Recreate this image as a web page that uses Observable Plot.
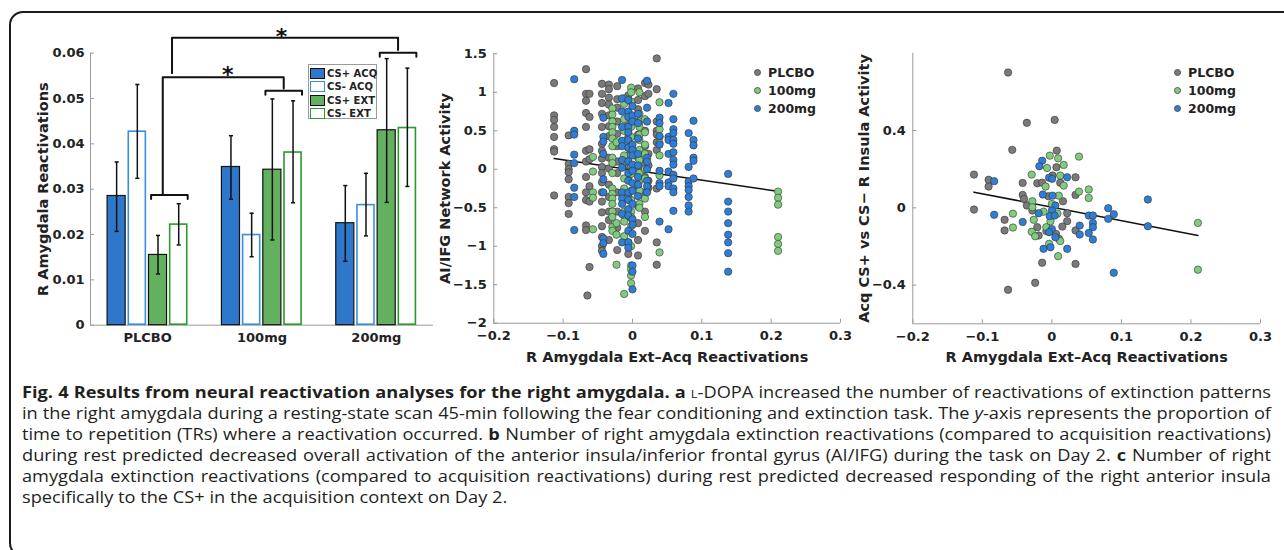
<!DOCTYPE html>
<html>
<head>
<meta charset="utf-8">
<script src="https://cdn.jsdelivr.net/npm/d3@7"></script>
<script src="https://cdn.jsdelivr.net/npm/@observablehq/plot@0.6"></script>
<style>
  html, body { margin: 0; padding: 0; background: #fff; }
  body { width: 1284px; height: 550px; overflow: hidden; position: relative; }
  #frame { position: absolute; left: 9px; top: 11px; width: 1300px; height: 546px;
           border: 2px solid #1a1a1a; border-radius: 14px; box-sizing: border-box; }
  .panel { position: absolute; top: 0; }
  .panel svg { overflow: visible; }
  #legA { position: absolute; left: 308px; top: 64px; width: 69px; height: 55px;
          border: 1px solid #9a9a9a; background: #fff; box-sizing: border-box;
          font-family: "DejaVu Sans"; font-weight: bold; font-size: 10px; color: #222; }
  #legA .row { position: absolute; left: 1px; height: 13px; display: flex; align-items: center; white-space: nowrap; }
  #legA .sw { width: 15px; height: 11px; box-sizing: border-box; margin-right: 2px; flex: none; }
  .legS { position: absolute; font-family: "DejaVu Sans"; font-weight: bold; font-size: 12.5px; color: #222; }
  .legS .row { position: absolute; left: 0; height: 18px; display: flex; align-items: center; white-space: nowrap; }
  .legS .dot { width: 7px; height: 7px; border-radius: 50%; box-sizing: border-box; border: 0.6px solid #555; margin-right: 7px; flex: none; }
  #caption { position: absolute; left: 22px; top: 382px; font-family: "Open Sans"; font-size: 15.5px; color: #231f20; }
  .cl { height: 21px; line-height: 21px; transform-origin: 0 50%; }
  .cl > span { white-space: nowrap; display: inline-block; }
  .cl.just { text-align: justify; text-align-last: justify; }
  .cl.just > span, .cl.last > span { display: inline; white-space: normal; }
  .sc { font-variant: small-caps; }
</style>
</head>
<body>
<div id="frame"></div>
<div id="pa" class="panel" style="left:0px"></div>
<div id="pb" class="panel" style="left:430px"></div>
<div id="pc" class="panel" style="left:850px"></div>
<div id="legA"></div>
<div id="legB" class="legS" style="left:754px;top:0px"></div>
<div id="legC" class="legS" style="left:1174px;top:0px"></div>
<div id="caption">
  <div class="cl"><span><b>Fig. 4 Results from neural reactivation analyses for the right amygdala. a</b> <span class="sc">l</span>-DOPA increased the number of reactivations of extinction patterns</span></div>
  <div class="cl"><span>in the right amygdala during a resting-state scan 45-min following the fear conditioning and extinction task. The <i>y</i>-axis represents the proportion of</span></div>
  <div class="cl"><span>time to repetition (TRs) where a reactivation occurred. <b>b</b> Number of right amygdala extinction reactivations (compared to acquisition reactivations)</span></div>
  <div class="cl"><span>during rest predicted decreased overall activation of the anterior insula/inferior frontal gyrus (AI/IFG) during the task on Day 2. <b>c</b> Number of right</span></div>
  <div class="cl"><span>amygdala extinction reactivations (compared to acquisition reactivations) during rest predicted decreased responding of the right anterior insula</span></div>
  <div class="cl"><span>specifically to the CS+ in the acquisition context on Day 2.</span></div>
</div>
<script>
// ---------------- DATA ----------------
// Panel a: bar chart
const groups = ["PLCBO", "100mg", "200mg"];
const conditions = ["CS+ ACQ", "CS- ACQ", "CS+ EXT", "CS- EXT"];
const meanPLCBO = [0.0285, 0.0428, 0.0155, 0.0223];
const mean100mg = [0.0349, 0.0200, 0.0343, 0.0382];
const mean200mg = [0.0225, 0.0266, 0.0430, 0.0436];
const lowPLCBO  = [0.0207, 0.0324, 0.0113, 0.0177];
const low100mg  = [0.0278, 0.0151, 0.0188, 0.0270];
const low200mg  = [0.0141, 0.0197, 0.0271, 0.0306];
const highPLCBO = [0.0360, 0.0531, 0.0198, 0.0268];
const high100mg = [0.0418, 0.0247, 0.0499, 0.0495];
const high200mg = [0.0308, 0.0335, 0.0588, 0.0567];
const yTicksA = [0, 0.01, 0.02, 0.03, 0.04, 0.05, 0.06];

// significance brackets (group index, bracket height) and connectors (x in group units, y in data units)
const bracketGroup = [0, 1, 2];
const bracketLevel = [0.0287, 0.0517, 0.0601];
const connector1X = [0.132, 0.132, 1.19, 1.19];
const connector1Y = [0.0287, 0.0547, 0.0547, 0.0522];
const connector2X = [0.213, 0.213, 2.19, 2.19];
const connector2Y = [0.0556, 0.0634, 0.0634, 0.0607];
const starX = [0.70, 1.17];
const starY = [0.0562, 0.0646];

// Panel b: AI/IFG network activity, columns of [x, [y values]]
const plcboB = [
  [-0.113, [1.12, 0.70, 0.64, 0.55, 0.42, 0.26, 0.23, -0.34]],
  [-0.092, [0.44, 0.07, 0.0, -0.04, -0.13, -0.36, -0.44, -0.58]],
  [-0.067, [1.30, 0.98, 0.89, 0.73, 0.55, 0.24, 0.10, -0.10, -0.30, -0.40, -0.73, -0.79]],
  [-0.062, [0.98, 0.68, 0.26, 0.13, -0.22, -0.42, -1.27]],
  [-0.065, [-1.64]],
  [-0.044, [1.11, 0.98, 0.86, 0.72, 0.55, 0.33, 0.24, 0.14, 0.03, -0.05, -0.17, -0.30, -0.42, -0.56, -0.74, -0.88, -1.00, -1.06]],
  [-0.034, [1.10, 1.04, 0.93, 0.84, 0.70, 0.56, 0.43, 0.15, 0.01, -0.20, -0.36, -0.55, -0.66, -0.92]],
  [-0.022, [1.08, 0.91, 0.80, 0.62, 0.46, 0.30, 0.10, -0.05, -0.30, -0.55, -0.76, -1.05]],
  [-0.006, [0.96, 0.60, 0.42, 0.28, 0.18, 0.05, -0.12, -0.35, -0.62, -0.95, -1.10]],
  [0.008, [1.05, 0.90, 0.78, 0.62, 0.45, 0.15, 0.0, -0.22, -0.48, -0.70, -0.92, -1.12]],
  [0.018, [1.12, 0.95, 0.50, 0.30, 0.07, -0.10, -0.30, -0.55, -0.80]],
  [0.023, [1.10, 0.98, 0.20, 0.05, -0.15, -0.24]],
  [0.035, [1.44, 1.04, 0.62, 0.50, 0.45, 0.35, 0.25, -0.25, -0.95, -1.24]]
];
const mg100B = [
  [-0.057, [0.16, -0.03, -0.30, -0.37, -0.78]],
  [-0.029, [0.79, 0.71, 0.62, 0.55, 0.48, 0.40, 0.30, 0.15, 0.08, -0.05, -0.25, -0.32, -0.38, -0.45, -0.55, -0.62, -0.75, -0.80]],
  [-0.023, [0.35, -0.70, -0.85, -1.24]],
  [-0.012, [0.92, 0.85, 0.65, 0.50, 0.35, 0.18, 0.10, -0.12, -0.25, -0.38, -0.55, -0.60, -0.68, -0.87, -1.62]],
  [-0.002, [1.06, 1.00, 0.88, 0.55, 0.42, 0.32, 0.18, 0.05, -0.06, -0.28, -0.40, -0.55, -0.62, -0.74, -1.00, -1.25, -1.30, -1.38, -1.48]],
  [0.010, [1.00, 0.72, 0.62, 0.55, 0.45, 0.38, 0.25, 0.12, -0.05, -0.15, -0.28, -0.45, -0.50]],
  [0.018, [0.65, 0.48, 0.32, 0.20, 0.00, -0.12, -0.38, -0.62]],
  [0.039, [0.87, 0.52, 0.42, 0.34, 0.18, -0.08, -1.08]],
  [0.210, [-0.29, -0.37, -0.46, -0.88, -0.97, -1.06]]
];
const mg200B = [
  [-0.084, [1.17, 0.50, 0.45, 0.19, 0.08, -0.24, -0.36, -0.79]],
  [-0.042, [0.67, 0.42, 0.36, 0.20, -0.13, -0.30, -0.90, -0.96, -1.10]],
  [-0.015, [1.16, 0.92, 0.75, 0.55, 0.37, 0.30, 0.12, 0.02, -0.30, -0.38, -0.45, -0.58, -0.95]],
  [-0.006, [0.90, 0.75, 0.68, 0.55, 0.48, 0.38, 0.28, 0.10, -0.05, -0.15, -0.30, -0.40, -0.52, -0.60, -0.80, -0.95, -1.02]],
  [0.000, [0.82, 0.70, 0.62, 0.32, 0.25, 0.18, 0.06, -0.02, -0.18, -0.28, -0.45, -0.65, -0.72, -0.84, -1.25, -1.33, -1.56]],
  [0.008, [0.72, 0.60, 0.40, 0.20, 0.05, -0.10, -0.20, -0.35]],
  [0.021, [1.15, 0.80, 0.62, 0.15, 0.10, 0.00, -0.15, -0.22, -0.30]],
  [0.039, [0.67, 0.60, 0.43, 0.32, -0.02, -0.18, -0.22, -0.68]],
  [0.052, [0.86, 0.42, 0.38, 0.20, -0.03, -0.17, -0.22, -0.78]],
  [0.059, [0.98, 0.65, 0.52, 0.47, 0.38, 0.33, 0.22, 0.12, 0.06, -0.07, -0.12, -0.25, -0.30, -0.54]],
  [0.081, [0.47, 0.03, -0.16, -0.22, -0.27, -0.36, -0.47, -0.55]],
  [0.088, [0.63, 0.38, 0.31, 0.15, 0.11, -0.12]],
  [0.138, [-0.06, -0.42, -0.55, -0.70, -0.85, -0.95, -1.09, -1.33]]
];
const fitBX = [-0.113, 0.209];
const fitBY = [0.14, -0.286];
const xTicksBC = [-0.2, -0.1, 0, 0.1, 0.2, 0.3];
const yTicksB = [-2, -1.5, -1, -0.5, 0, 0.5, 1, 1.5];

// Panel c: Acq CS+ vs CS- R insula activity, [x, y] pairs
const plcboC = [
  [-0.063, 0.70], [-0.036, 0.44], [0.004, 0.455], [-0.057, 0.30], [0.007, 0.296],
  [-0.112, 0.172], [-0.091, 0.145], [-0.091, 0.11], [-0.112, -0.009],
  [-0.042, 0.129], [-0.042, 0.067], [-0.040, 0.046], [-0.036, 0.012],
  [-0.068, -0.062], [-0.068, -0.117], [-0.021, 0.127], [-0.014, 0.13],
  [0.0066, 0.21], [0.001, 0.167], [0.016, 0.034], [0.022, -0.028], [0.022, -0.069], [0.015, -0.097],
  [0.034, 0.158], [0.034, 0.067], [0.034, -0.117], [0.034, -0.29],
  [-0.014, -0.284], [-0.024, -0.388], [-0.063, -0.424],
  [-0.021, -0.10], [-0.019, -0.143], [-0.008, -0.12], [0.006, -0.135], [0.010, -0.16],
  [-0.028, -0.014], [0.012, 0.13], [-0.005, 0.06]
];
const mg100C = [
  [-0.003, 0.27], [0.009, 0.256], [0.039, 0.265], [0.017, 0.222], [-0.007, 0.206], [-0.029, 0.172],
  [0.012, 0.167], [0.017, 0.115], [-0.009, 0.11], [0.053, 0.095], [0.053, 0.051], [0.039, 0.084],
  [0.010, 0.063], [-0.028, 0.034], [-0.028, 0.003], [-0.056, -0.03], [-0.056, -0.102], [-0.026, -0.062],
  [-0.029, -0.124], [-0.024, -0.147], [-0.008, -0.10], [-0.002, -0.07], [0.008, -0.03],
  [-0.004, -0.186], [0.012, -0.172], [0.009, -0.25], [0.21, -0.078], [0.21, -0.32], [-0.012, -0.02], [0.0, 0.02]
];
const mg200C = [
  [-0.083, 0.138], [-0.083, -0.036], [-0.042, -0.073], [-0.014, 0.244], [-0.018, 0.215], [-0.004, 0.156],
  [0.0004, 0.15], [0.022, 0.158], [-0.013, 0.069], [0.001, 0.063], [0.005, 0.012], [0.0, -0.014],
  [-0.019, -0.028], [-0.003, -0.043], [0.004, -0.04], [0.0, -0.11], [-0.004, -0.126], [0.005, -0.152],
  [-0.012, -0.212], [-0.002, -0.204], [0.022, -0.212], [0.040, -0.092], [0.040, -0.138], [0.053, -0.04],
  [0.059, -0.04], [0.059, -0.078], [0.059, -0.10], [0.053, -0.13], [0.059, -0.164], [0.081, -0.002],
  [0.081, -0.057], [0.089, -0.033], [0.089, -0.336], [0.138, 0.043], [0.138, -0.095]
];
const fitCX = [-0.112, 0.210];
const fitCY = [0.081, -0.143];
const yTicksC = [-0.4, 0, 0.4];
const doseLabels = ["PLCBO", "100mg", "200mg"];

// ---------------- STYLE ----------------
const condFill = ["#2f78c9", "#ffffff", "#63b060", "#ffffff"];
const condStroke = ["#111111", "#3a8ee0", "#111111", "#2a9a2a"];
const condHollow = [false, true, false, true];
const doseColor = ["#7a7a7a", "#80cc7c", "#2f7ed6"];
const axisGray = "#9a9a9a";
const FONT = "DejaVu Sans";
const TITLE_SIZE = 14.5;
const barStep = 0.181, barWidth = 0.158;
const fmt = d => d === 0 ? "0" : (d < 0 ? "\u2212" : "") + Math.abs(d);

// ---------------- PANEL A ----------------
const means = [meanPLCBO, mean100mg, mean200mg];
const lows = [lowPLCBO, low100mg, low200mg];
const highs = [highPLCBO, high100mg, high200mg];
const bars = [];
groups.forEach((g, gi) => conditions.forEach((c, ci) => {
  const cx = gi + (ci - 1.5) * barStep;
  bars.push({group: g, cond: ci, cx, x1: cx - barWidth / 2, x2: cx + barWidth / 2,
    mean: means[gi][ci], lo: lows[gi][ci], hi: highs[gi][ci],
    fill: condFill[ci], stroke: condStroke[ci], hollow: condHollow[ci]});
}));
const foot = 0.00088;
const bracketLines = [];
bracketGroup.forEach((g, i) => {
  const a = g + 0.03, b = g + 0.35, y = bracketLevel[i];
  [[a, y - foot], [a, y], [b, y], [b, y - foot]].forEach(p => bracketLines.push({k: "b" + i, x: p[0], y: p[1]}));
});
connector1X.forEach((x, i) => bracketLines.push({k: "c1", x, y: connector1Y[i]}));
connector2X.forEach((x, i) => bracketLines.push({k: "c2", x, y: connector2Y[i]}));
const stars = starX.map((x, i) => ({x, y: starY[i]}));

const WA = 440, HA = 360, mLA = 90, mRA = 7, mTA = 52.7, mBA = 35.3;
const plotA = Plot.plot({
  width: WA, height: HA,
  marginLeft: mLA, marginRight: mRA, marginTop: mTA, marginBottom: mBA,
  x: {domain: [-0.5, 2.5], axis: null},
  y: {domain: [0, 0.06], axis: null},
  color: {type: "identity"},
  style: {background: "transparent", fontFamily: FONT, fontSize: "13px", fontWeight: "bold", color: "#222", overflow: "visible"},
  marks: [
    Plot.axisY({ticks: yTicksA, tickSize: 0, tickPadding: 6, tickFormat: fmt, label: null}),
    Plot.axisX({ticks: [0, 1, 2], tickSize: 0, tickPadding: 8, tickFormat: i => groups[i], label: null}),
    Plot.ruleX([-0.5], {stroke: axisGray}),
    Plot.ruleY([0], {stroke: axisGray}),
    Plot.tickY(yTicksA, {y: d => d, stroke: axisGray, insetRight: WA - mLA - mRA - 4}),
    Plot.rect(bars.filter(d => !d.hollow), {x1: "x1", x2: "x2", y1: () => 0, y2: "mean", fill: "fill", stroke: "stroke", strokeWidth: 1.2}),
    Plot.rect(bars.filter(d => d.hollow), {x1: "x1", x2: "x2", y1: () => 0, y2: "mean", fill: "fill", stroke: "stroke", strokeWidth: 1.6, inset: 0.5}),
    Plot.ruleX(bars, {x: "cx", y1: "lo", y2: "hi", stroke: "#111", strokeWidth: 1.5}),
    Plot.link(bars, {x1: d => d.cx - 0.018, x2: d => d.cx + 0.018, y1: "lo", y2: "lo", stroke: "#111", strokeWidth: 1.5}),
    Plot.link(bars, {x1: d => d.cx - 0.018, x2: d => d.cx + 0.018, y1: "hi", y2: "hi", stroke: "#111", strokeWidth: 1.5}),
    Plot.line(bracketLines, {x: "x", y: "y", z: "k", stroke: "#111", strokeWidth: 2, curve: "linear"}),
    Plot.text(stars, {x: "x", y: "y", text: () => "*", fontSize: 22, fontWeight: "bold", fill: "#111", dy: 5}),
    Plot.text(["R Amygdala Reactivations"], {text: d => d, frameAnchor: "left", textAnchor: "middle", lineAnchor: "middle", rotate: -90, dx: -47, fontSize: TITLE_SIZE, fontWeight: "bold", fill: "#222"})
  ]
});
document.getElementById("pa").append(plotA);

// legend for panel a
const legA = document.getElementById("legA");
conditions.forEach((c, i) => {
  const row = document.createElement("div");
  row.className = "row";
  row.style.top = (1.5 + i * 13.5) + "px";
  const sw = document.createElement("div");
  sw.className = "sw";
  sw.style.background = condFill[i];
  sw.style.border = (condHollow[i] ? 1.5 : 1) + "px solid " + condStroke[i];
  const t = document.createElement("span");
  t.textContent = c;
  row.append(sw, t);
  legA.append(row);
});

// ---------------- SCATTER PANELS ----------------
function flatCols(cols, dose) {
  const out = [];
  cols.forEach(([x, ys]) => ys.forEach(y => out.push({x, y, dose})));
  return out;
}
const pointsB = [...flatCols(plcboB, 0), ...flatCols(mg100B, 1), ...flatCols(mg200B, 2)];
const pointsC = [
  ...plcboC.map(([x, y]) => ({x, y, dose: 0})),
  ...mg100C.map(([x, y]) => ({x, y, dose: 1})),
  ...mg200C.map(([x, y]) => ({x, y, dose: 2}))
];

function scatter({W, H, mL, mR, mT, mB, yDomain, yTicks, points, fitX, fitY, ylabel}) {
  return Plot.plot({
    width: W, height: H, marginLeft: mL, marginRight: mR, marginTop: mT, marginBottom: mB,
    x: {domain: [-0.2, 0.3], axis: null},
    y: {domain: yDomain, axis: null},
    color: {type: "identity"},
    style: {background: "transparent", fontFamily: FONT, fontSize: "13px", fontWeight: "bold", color: "#222", overflow: "visible"},
    marks: [
      Plot.axisY({ticks: yTicks, tickSize: 0, tickPadding: 7, tickFormat: fmt, label: null}),
      Plot.axisX({ticks: xTicksBC, tickSize: 0, tickPadding: 8, tickFormat: fmt, label: null}),
      Plot.ruleX([-0.2], {stroke: axisGray}),
      Plot.ruleY([yDomain[0]], {stroke: axisGray}),
      Plot.tickY(yTicks, {y: d => d, stroke: axisGray, insetRight: W - mL - mR - 4}),
      Plot.tickX(xTicksBC, {x: d => d, stroke: axisGray, insetTop: H - mT - mB - 4}),
      Plot.line(fitX.map((x, i) => ({x, y: fitY[i]})), {x: "x", y: "y", stroke: "#111", strokeWidth: 1.6}),
      Plot.dot(points, {x: "x", y: "y", r: 3.7, fill: d => doseColor[d.dose], stroke: "#333", strokeWidth: 0.6}),
      Plot.text([ylabel], {text: d => d, frameAnchor: "left", textAnchor: "middle", lineAnchor: "middle", rotate: -90, dx: -48, fontSize: TITLE_SIZE, fontWeight: "bold", fill: "#222"}),
      Plot.text(["R Amygdala Ext\u2013Acq Reactivations"], {text: d => d, frameAnchor: "bottom", textAnchor: "middle", lineAnchor: "middle", dy: 34, fontSize: TITLE_SIZE, fontWeight: "bold", fill: "#222"})
    ]
  });
}

const plotB = scatter({W: 430, H: 380, mL: 63.3, mR: 20, mT: 53.3, mB: 57.3,
  yDomain: [-2, 1.5], yTicks: yTicksB, points: pointsB, fitX: fitBX, fitY: fitBY,
  ylabel: "AI/IFG Network Activity"});
document.getElementById("pb").append(plotB);

const plotC = scatter({W: 434, H: 380, mL: 62.3, mR: 24, mT: 52.7, mB: 56.7,
  yDomain: [-0.6, 0.8], yTicks: yTicksC, points: pointsC, fitX: fitCX, fitY: fitCY,
  ylabel: "Acq CS+ vs CS\u2212 R Insula Activity"});
document.getElementById("pc").append(plotC);

// scatter legends
function scatterLegend(el) {
  doseLabels.forEach((lab, i) => {
    const row = document.createElement("div");
    row.className = "row";
    row.style.top = (63.7 + i * 18) + "px";
    const dot = document.createElement("div");
    dot.className = "dot";
    dot.style.background = doseColor[i];
    const t = document.createElement("span");
    t.textContent = lab;
    row.append(dot, t);
    el.append(row);
  });
}
scatterLegend(document.getElementById("legB"));
scatterLegend(document.getElementById("legC"));

// ---------------- CAPTION FIT ----------------
function fitCaption() {
  const lines = [...document.querySelectorAll("#caption .cl")];
  const W = 1249;
  const nat = lines.map(l => l.firstElementChild.getBoundingClientRect().width);
  const s = Math.min(...nat.slice(0, -1).map(n => W / n)) * 0.995;
  lines.forEach((l, i) => {
    l.style.width = (W / s) + "px";
    l.style.transform = `scaleX(${s})`;
    l.classList.add(i < lines.length - 1 ? "just" : "last");
  });
}
if (document.fonts && document.fonts.ready) document.fonts.ready.then(fitCaption); else fitCaption();
</script>
</body>
</html>
